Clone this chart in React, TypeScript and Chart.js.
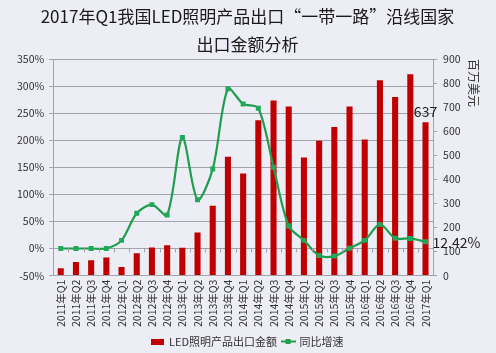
import React, { useEffect, useRef } from "react";
import { Chart, registerables } from "chart.js";

Chart.register(...registerables);

const titleLines = ["2017年Q1我国LED照明产品出口“一带一路”沿线国家", "出口金额分析"];
const categories = [
  "2011年Q1", "2011年Q2", "2011年Q3", "2011年Q4",
  "2012年Q1", "2012年Q2", "2012年Q3", "2012年Q4",
  "2013年Q1", "2013年Q2", "2013年Q3", "2013年Q4",
  "2014年Q1", "2014年Q2", "2014年Q3", "2014年Q4",
  "2015年Q1", "2015年Q2", "2015年Q3", "2015年Q4",
  "2016年Q1", "2016年Q2", "2016年Q3", "2016年Q4",
  "2017年Q1",
];
const exportValues = [30, 56, 64, 75, 36, 93, 117, 126, 116, 179, 290, 494, 424, 645, 728, 703, 491, 560, 617, 703, 565, 812, 742, 837, 637];
const growthRates = [0, 0, 0, 0, 15, 65, 81, 62, 205, 90, 147, 295, 267, 259, 150, 41.5, 15, -13, -14, 0.5, 15, 44.6, 19, 18.6, 12.42];
const seriesNames = ["LED照明产品出口金额", "同比增速"];
const rightAxisTitle = "百万美元";
const leftAxisRange = { min: -50, max: 350, step: 50 };
const rightAxisRange = { min: 0, max: 900, step: 100 };

const RED = "#c00000";
const GREEN = "#1f9e4e";
const GRID = "#a3a3ab";
const TEXT = "#333333";
const BG = "#ecedf5";
const FONT = "'Noto Sans CJK SC', 'Noto Sans', sans-serif";

function rectIcon(color: string, w: number, h: number) {
  const c = document.createElement("canvas");
  c.width = w;
  c.height = h;
  const ctx = c.getContext("2d")!;
  ctx.fillStyle = color;
  ctx.fillRect(0, 0, w, h);
  return c;
}

function lineIcon(color: string, w: number, h: number) {
  const c = document.createElement("canvas");
  c.width = w;
  c.height = h;
  const ctx = c.getContext("2d")!;
  ctx.strokeStyle = color;
  ctx.lineWidth = 2;
  ctx.beginPath();
  ctx.moveTo(0, h / 2);
  ctx.lineTo(w, h / 2);
  ctx.stroke();
  ctx.fillStyle = color;
  ctx.fillRect(w / 2 - 2.5, h / 2 - 2.5, 5, 5);
  return c;
}

const extrasPlugin = {
  id: "extras",
  afterDatasetsDraw(chart: any) {
    const ctx = chart.ctx;
    const x = chart.scales.x;
    const yl = chart.scales.yLeft;
    const yr = chart.scales.yRight;
    const y0 = yl.getPixelForValue(0);
    ctx.save();
    ctx.strokeStyle = GRID;
    ctx.lineWidth = 1;
    for (let i = 0; i <= categories.length; i++) {
      const px = Math.round(x.getPixelForValue(i - 0.5)) + 0.5;
      ctx.beginPath();
      ctx.moveTo(px, y0);
      ctx.lineTo(px, y0 + 4);
      ctx.stroke();
    }
    const last = categories.length - 1;
    ctx.fillStyle = "#222222";
    ctx.font = `14px ${FONT}`;
    ctx.textAlign = "center";
    ctx.textBaseline = "bottom";
    ctx.fillText(String(exportValues[last]), x.getPixelForValue(last), yr.getPixelForValue(exportValues[last]) - 4);
    ctx.textAlign = "left";
    ctx.textBaseline = "middle";
    ctx.fillText(growthRates[last].toFixed(2) + "%", x.getPixelForValue(last) + 7, yl.getPixelForValue(growthRates[last]) + 1);
    ctx.restore();
  },
};

export default function App() {
  const ref = useRef<HTMLCanvasElement | null>(null);
  useEffect(() => {
    document.body.style.margin = "0";
    document.body.style.background = BG;
    const icons = [rectIcon(RED, 13, 6), lineIcon(GREEN, 15, 7)];
    const chart = new Chart(ref.current!, {
      type: "bar",
      data: {
        labels: categories,
        datasets: [
          {
            type: "bar",
            label: seriesNames[0],
            data: exportValues,
            backgroundColor: RED,
            yAxisID: "yRight",
            order: 1,
            barPercentage: 0.8,
            categoryPercentage: 0.5,
          },
          {
            type: "line",
            label: seriesNames[1],
            data: growthRates,
            borderColor: GREEN,
            backgroundColor: GREEN,
            borderWidth: 2.2,
            tension: 0.3,
            pointStyle: "rect",
            pointRadius: 3.5,
            pointBackgroundColor: "#22a85a",
            pointBorderColor: "#22a85a",
            pointBorderWidth: 0,
            yAxisID: "yLeft",
            order: 0,
          } as any,
        ],
      },
      options: {
        animation: false,
        responsive: false,
        maintainAspectRatio: false,
        layout: { padding: { left: 12, right: 13, top: 0, bottom: -4 } },
        plugins: {
          tooltip: { enabled: false },
          title: {
            display: true,
            text: titleLines,
            color: "#1a1a1a",
            font: { family: FONT, size: 17, weight: "normal", lineHeight: "28px" as any },
            padding: { top: 3, bottom: 0 },
          },
          legend: {
            display: true,
            position: "bottom",
            labels: {
              color: TEXT,
              font: { family: FONT, size: 11 },
              usePointStyle: true,
              pointStyleWidth: 12,
              padding: 5,
              generateLabels: () =>
                seriesNames.map((name, i) => ({
                  text: name,
                  pointStyle: icons[i],
                  fillStyle: i === 0 ? RED : GREEN,
                  strokeStyle: i === 0 ? RED : GREEN,
                  lineWidth: 0,
                  hidden: false,
                  datasetIndex: i,
                  fontColor: TEXT,
                })) as any,
            },
          },
        },
        scales: {
          x: {
            offset: true,
            grid: { display: false, drawTicks: false },
            border: { display: true, color: GRID },
            ticks: {
              color: TEXT,
              font: { family: FONT, size: 10.5 },
              minRotation: 90,
              maxRotation: 90,
              autoSkip: false,
              padding: 4,
            },
          },
          yLeft: {
            type: "linear",
            position: "left",
            min: leftAxisRange.min,
            max: leftAxisRange.max,
            grid: { color: GRID, tickLength: 4, drawTicks: true },
            border: { display: true, color: GRID },
            ticks: {
              stepSize: leftAxisRange.step,
              color: TEXT,
              font: { family: FONT, size: 10.5 },
              padding: 5,
              callback: (v: any) => v + "%",
            },
          },
          yRight: {
            type: "linear",
            position: "right",
            min: rightAxisRange.min,
            max: rightAxisRange.max,
            grid: { drawOnChartArea: false, color: GRID, tickLength: 4, drawTicks: true },
            border: { display: true, color: GRID },
            ticks: {
              stepSize: rightAxisRange.step,
              color: TEXT,
              font: { family: FONT, size: 10.5 },
              padding: 6,
            },
            title: {
              display: true,
              text: rightAxisTitle,
              align: "end",
              color: TEXT,
              font: { family: FONT, size: 12 },
              padding: { top: 2, bottom: 0 },
            },
          },
        },
      },
      plugins: [extrasPlugin],
    });
    return () => chart.destroy();
  }, []);
  return (
    <div style={{ width: 496, height: 353, background: BG }}>
      <canvas ref={ref} width={496} height={353} style={{ display: "block" }} />
    </div>
  );
}
